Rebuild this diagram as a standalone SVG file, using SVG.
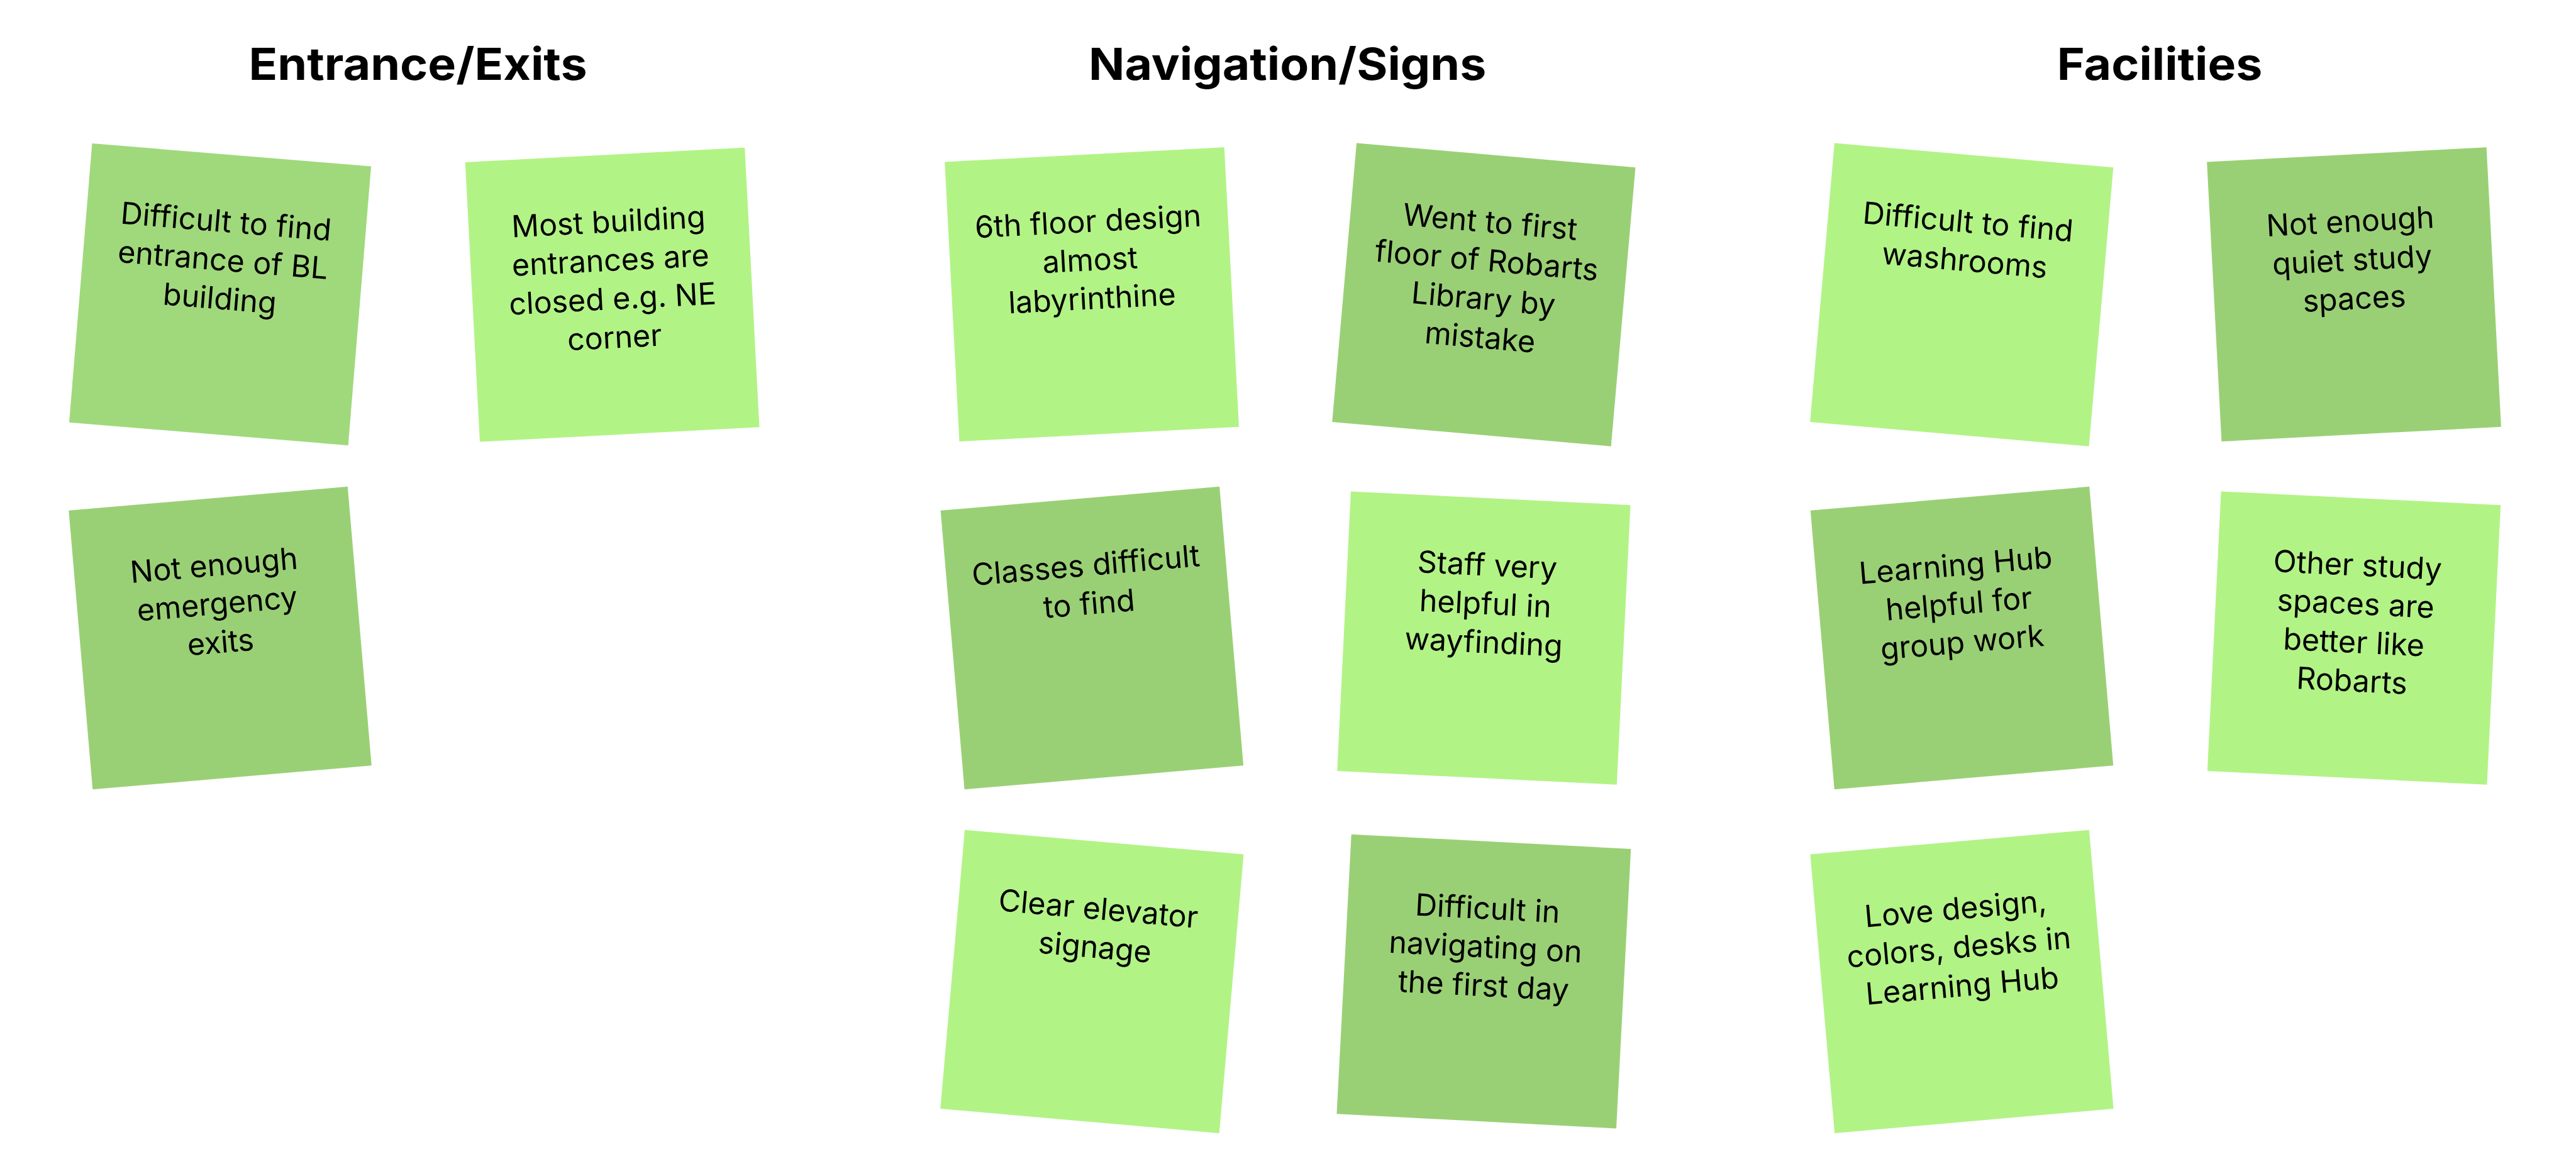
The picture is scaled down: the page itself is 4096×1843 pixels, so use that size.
<svg xmlns="http://www.w3.org/2000/svg" width="4096" height="1843" viewBox="0 0 4096 1843">
<style>
.bg{fill:#ffffff}
.light{fill:#b2f386}
.mid{fill:#a0d97b}
.dark{fill:#9ad075}
.h{font-family:Inter,"Open Sans","Liberation Sans",sans-serif;font-weight:700;font-size:27px;fill:#000;text-anchor:middle}
.t{font-family:Inter,"Open Sans","Liberation Sans",sans-serif;font-weight:400;font-size:18.5px;fill:#000;text-anchor:middle}
</style>
<rect class="bg" x="0" y="0" width="4096" height="1843"/>
<g transform="scale(2.6122)">
<g id="headings">
<text class="h" x="254.4" y="48.8" textLength="206" lengthAdjust="spacingAndGlyphs">Entrance/Exits</text>
<text class="h" x="783.7" y="48.8" textLength="242" lengthAdjust="spacingAndGlyphs">Navigation/Signs</text>
<text class="h" x="1314.6" y="48.8" textLength="125" lengthAdjust="spacingAndGlyphs">Facilities</text>
</g>
<g id="connectors"></g>
<g id="n1" transform="translate(134,179.2) rotate(4.7)"><rect class="mid" x="-85.2" y="-85.2" width="170.4" height="170.4"/><text class="t"><tspan x="0" y="-38">Difficult to find</tspan><tspan x="0" y="-14.5">entrance of BL</tspan><tspan x="0" y="9">building</tspan></text></g>
<g id="n2" transform="translate(372.7,179.4) rotate(-3)"><rect class="light" x="-85.2" y="-85.2" width="170.4" height="170.4"/><text class="t"><tspan x="0" y="-38">Most building</tspan><tspan x="0" y="-14.5">entrances are</tspan><tspan x="0" y="9">closed e.g. NE</tspan><tspan x="0" y="32.5">corner</tspan></text></g>
<g id="n3" transform="translate(134,388.4) rotate(-4.9)"><rect class="dark" x="-85.2" y="-85.2" width="170.4" height="170.4"/><text class="t"><tspan x="0" y="-38">Not enough</tspan><tspan x="0" y="-14.5">emergency</tspan><tspan x="0" y="9">exits</tspan></text></g>
<g id="n4" transform="translate(664.6,179.2) rotate(-3)"><rect class="light" x="-85.2" y="-85.2" width="170.4" height="170.4"/><text class="t"><tspan x="0" y="-38">6th floor design</tspan><tspan x="0" y="-14.5">almost</tspan><tspan x="0" y="9">labyrinthine</tspan></text></g>
<g id="n5" transform="translate(903.2,179.4) rotate(5)"><rect class="dark" x="-85.2" y="-85.2" width="170.4" height="170.4"/><text class="t"><tspan x="0" y="-38">Went to first</tspan><tspan x="0" y="-14.5">floor of Robarts</tspan><tspan x="0" y="9">Library by</tspan><tspan x="0" y="32.5">mistake</tspan></text></g>
<g id="n6" transform="translate(664.7,388.4) rotate(-4.9)"><rect class="dark" x="-85.2" y="-85.2" width="170.4" height="170.4"/><text class="t"><tspan x="0" y="-38">Classes difficult</tspan><tspan x="0" y="-14.5">to find</tspan></text></g>
<g id="n7" transform="translate(903.2,388.4) rotate(2.8)"><rect class="light" x="-85.2" y="-85.2" width="170.4" height="170.4"/><text class="t"><tspan x="0" y="-38">Staff very</tspan><tspan x="0" y="-14.5">helpful in</tspan><tspan x="0" y="9">wayfinding</tspan></text></g>
<g id="n8" transform="translate(664.7,597.5) rotate(5)"><rect class="light" x="-85.2" y="-85.2" width="170.4" height="170.4"/><text class="t"><tspan x="0" y="-38">Clear elevator</tspan><tspan x="0" y="-14.5">signage</tspan></text></g>
<g id="n9" transform="translate(903.2,597.4) rotate(3)"><rect class="dark" x="-85.2" y="-85.2" width="170.4" height="170.4"/><text class="t"><tspan x="0" y="-38">Difficult in</tspan><tspan x="0" y="-14.5">navigating on</tspan><tspan x="0" y="9">the first day</tspan></text></g>
<g id="n10" transform="translate(1194.1,179.4) rotate(5)"><rect class="light" x="-85.2" y="-85.2" width="170.4" height="170.4"/><text class="t"><tspan x="0" y="-38">Difficult to find</tspan><tspan x="0" y="-14.5">washrooms</tspan></text></g>
<g id="n11" transform="translate(1432.9,179.2) rotate(-3)"><rect class="dark" x="-85.2" y="-85.2" width="170.4" height="170.4"/><text class="t"><tspan x="0" y="-38">Not enough</tspan><tspan x="0" y="-14.5">quiet study</tspan><tspan x="0" y="9">spaces</tspan></text></g>
<g id="n12" transform="translate(1194.2,388.4) rotate(-4.9)"><rect class="dark" x="-85.2" y="-85.2" width="170.4" height="170.4"/><text class="t"><tspan x="0" y="-38">Learning Hub</tspan><tspan x="0" y="-14.5">helpful for</tspan><tspan x="0" y="9">group work</tspan></text></g>
<g id="n13" transform="translate(1432.9,388.4) rotate(2.8)"><rect class="light" x="-85.2" y="-85.2" width="170.4" height="170.4"/><text class="t"><tspan x="0" y="-38">Other study</tspan><tspan x="0" y="-14.5">spaces are</tspan><tspan x="0" y="9">better like</tspan><tspan x="0" y="32.5">Robarts</tspan></text></g>
<g id="n14" transform="translate(1194.2,597.5) rotate(-5)"><rect class="light" x="-85.2" y="-85.2" width="170.4" height="170.4"/><text class="t"><tspan x="0" y="-38">Love design,</tspan><tspan x="0" y="-14.5">colors, desks in</tspan><tspan x="0" y="9">Learning Hub</tspan></text></g>
</g>
</svg>
